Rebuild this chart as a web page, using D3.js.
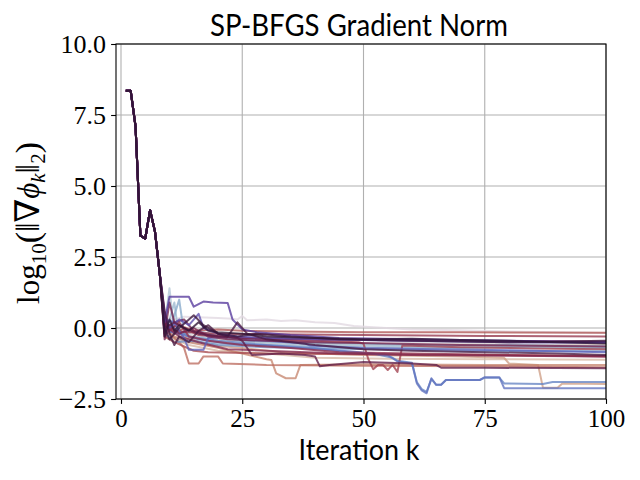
<!DOCTYPE html>
<html><head><meta charset="utf-8">
<script src="https://cdn.jsdelivr.net/npm/d3@7"></script>
<style>html,body{margin:0;padding:0;background:#fff;} svg{display:block}</style>
</head><body><svg id="c" width="640" height="480"></svg>
<script>
// ---- data ----
const xTickValues = [0, 25, 50, 75, 100];
const xTickLabels = ["0", "25", "50", "75", "100"];
const yTickValues = [-2.5, 0, 2.5, 5, 7.5, 10];
const yTickLabels = ["\u22122.5", "0.0", "2.5", "5.0", "7.5", "10.0"];

// shared first iterations (all runs overlap here)
const sharedHead = [[1,8.35],[2,8.35],[3,7.1],[4,3.25],[5,3.15],[6,4.15],[7,3.4],[8,1.9]];

// colour position of each run in the twilight map
const seriesTone = [0.00,0.04,0.08,0.12,0.16,0.20,0.25,0.29,0.33,0.37,0.41,0.45,0.50,0.52,0.54,0.58,0.60,0.62,0.64,0.66,0.68,0.70,0.72,0.74,0.78,0.82,0.86,0.90,0.94];

// per-run values after the shared head: [iteration, log10 gradient norm]
const seriesTails = [
 [[9,0.1],[10,0.35],[11,0.3],[13,0.4],[16,0.38],[20,0.35],[23,0.33],[24,0.3],[25,0.42],[26,0.27],[30,0.3],[33,0.25],[36,0.27],[40,0.2],[44,0.18],[48,0.07],[52,0.03],[60,-0.05],[70,-0.08],[80,-0.12],[90,-0.15],[100,-0.18]],
 [[9,-0.2],[11,-0.1],[14,-0.25],[18,-0.2],[22,-0.35],[30,-0.3],[40,-0.4],[50,-0.42],[60,-0.5],[80,-0.55],[100,-0.6]],
 [[9,0.3],[10,-0.3],[13,-0.4],[16,-0.3],[20,-0.45],[28,-0.5],[40,-0.55],[55,-0.6],[75,-0.62],[100,-0.65]],
 [[9,0.1],[10,1.4],[11,-0.2],[14,-0.1],[17,-0.3],[22,-0.4],[30,-0.55],[45,-0.6],[60,-0.65],[65,-0.7],[80,-0.68],[100,-0.72]],
 [[9,-0.3],[11,0.9],[12,-0.4],[15,-0.5],[20,-0.55],[30,-0.6],[50,-0.68],[70,-0.7],[85,-0.66],[100,-0.7]],
 [[9,0.0],[10,-0.1],[12,1.0],[13,-0.2],[16,-0.1],[20,-0.3],[25,-0.45],[35,-0.5],[50,-0.55],[65,-0.62],[80,-0.6],[100,-0.65]],
 [[9,-0.2],[11,-0.5],[15,-0.45],[20,-0.6],[30,-0.68],[42,-0.72],[55,-0.75],[70,-0.8],[100,-0.82]],
 [[9,0.2],[11,0.0],[14,-0.3],[20,-0.45],[30,-0.6],[40,-0.7],[47,-0.85],[52,-0.9],[56,-1.05],[57,-1.15],[60,-1.22],[61,-1.9],[62,-2.15],[63,-2.25],[64,-1.8],[65,-2.0],[66,-2.0],[67,-1.83],[74,-1.83],[75,-1.75],[78,-1.75],[79,-1.95],[87,-1.97],[89,-1.9],[100,-1.9]],
 [[9,-0.1],[12,-0.2],[16,-0.4],[22,-0.55],[30,-0.62],[40,-0.75],[47,-0.82],[55,-0.95],[57,-1.18],[60,-1.25],[61,-1.95],[62,-2.2],[63,-2.3],[64,-1.77],[65,-2.0],[66,-2.0],[67,-1.83],[74,-1.83],[75,-1.73],[78,-1.73],[79,-2.12],[100,-2.12]],
 [[9,0.3],[11,0.2],[12,-0.1],[13,-0.35],[14,-0.77],[17,-0.77],[18,-0.35],[22,-0.3],[26,-0.42],[30,-0.45],[38,-0.55],[39,-0.62],[50,-0.7],[65,-0.75],[80,-0.78],[100,-0.85]],
 [[9,0.5],[10,0.0],[12,0.3],[14,0.1],[16,0.5],[17,0.0],[20,-0.2],[24,-0.3],[30,-0.35],[40,-0.4],[60,-0.45],[80,-0.5],[100,-0.52]],
 [[9,0.2],[10,1.1],[14,1.1],[15,0.75],[17,0.93],[19,0.9],[22,0.88],[23,0.3],[25,-0.05],[28,-0.15],[35,-0.25],[45,-0.35],[60,-0.4],[80,-0.45],[100,-0.5]],
 [[9,-0.3],[10,0.3],[11,-0.1],[12,0.1],[14,-0.1],[16,0.2],[18,-0.1],[20,-0.15],[25,-0.2],[30,-0.3],[40,-0.35],[50,-0.4],[60,-0.38],[70,-0.42],[80,-0.45],[90,-0.5],[100,-0.55]],
 [[9,0.0],[10,-0.4],[12,0.0],[14,0.3],[15,0.45],[17,0.1],[20,-0.2],[24,-0.3],[28,-0.2],[35,-0.3],[45,-0.4],[60,-0.45],[80,-0.5],[100,-0.45]],
 [[9,0.6],[10,-0.2],[11,-0.6],[12,-0.3],[14,-0.5],[16,-0.1],[18,0.1],[20,-0.2],[22,-0.3],[24,0.2],[26,-0.2],[30,-0.4],[40,-0.6],[50,-0.75],[60,-0.8],[75,-0.85],[90,-0.9],[100,-0.95]],
 [[9,0.0],[11,0.2],[13,0.0],[16,-0.2],[20,-0.3],[24,-0.35],[25,-0.45],[27,-0.95],[33,-0.9],[38,-0.95],[40,-1.0],[41,-1.35],[43,-1.3],[50,-1.2],[60,-1.25],[65,-1.3],[66,-1.4],[75,-1.4],[100,-1.42]],
 [[9,-0.2],[10,0.9],[11,0.2],[13,0.3],[15,-0.1],[18,-0.25],[25,-0.35],[35,-0.4],[50,-0.42],[70,-0.45],[100,-0.48]],
 [[9,-0.4],[10,0.1],[12,-0.2],[15,0.0],[18,-0.3],[22,-0.4],[30,-0.45],[40,-0.5],[55,-0.55],[70,-0.6],[100,-0.65]],
 [[9,0.1],[12,-0.3],[16,-0.5],[22,-0.75],[30,-0.8],[45,-0.9],[60,-0.95],[80,-0.98],[100,-1.0]],
 [[9,0.4],[10,-0.1],[12,0.2],[14,-0.3],[18,-0.45],[25,-0.6],[35,-0.7],[45,-0.85],[60,-0.9],[80,-0.95],[100,-1.0]],
 [[9,0.2],[11,-0.1],[14,-0.15],[20,-0.2],[30,-0.22],[50,-0.25],[75,-0.28],[100,-0.3]],
 [[9,0.1],[11,-0.2],[13,0.0],[16,-0.25],[20,-0.3],[30,-0.4],[40,-0.45],[49,-0.5],[50,-0.55],[51,-1.1],[52,-1.45],[53,-1.3],[54,-1.3],[55,-1.48],[56,-1.3],[57,-1.55],[58,-0.62],[70,-0.68],[85,-0.72],[100,-0.75]],
 [[9,-0.3],[11,-0.5],[15,-0.8],[18,-0.85],[30,-0.9],[50,-0.92],[75,-0.95],[100,-0.98]],
 [[9,0.5],[10,0.0],[12,0.1],[15,-0.1],[20,-0.05],[25,-0.1],[35,-0.12],[50,-0.15],[70,-0.15],[100,-0.17]],
 [[9,0.2],[10,-0.2],[12,-0.5],[13,-0.7],[14,-1.25],[16,-1.25],[17,-1.0],[20,-1.0],[21,-1.25],[30,-1.3],[50,-1.33],[75,-1.35],[100,-1.38]],
 [[9,0.0],[11,-0.3],[14,-0.5],[20,-0.7],[25,-0.9],[30,-1.1],[31,-1.13],[32,-1.6],[34,-1.77],[36,-1.77],[37,-1.3],[50,-1.28],[75,-1.3],[100,-1.3]],
 [[9,0.3],[10,0.0],[13,-0.3],[18,-0.6],[25,-0.7],[33,-0.85],[40,-0.9],[50,-0.95],[70,-1.0],[79,-1.05],[80,-1.25],[86,-1.3],[87,-2.1],[90,-2.1],[91,-1.95],[100,-1.97]],
 [[9,0.0],[11,-0.4],[14,-0.6],[20,-0.8],[30,-0.9],[40,-1.05],[55,-1.08],[75,-1.1],[100,-1.12]],
 [[9,-0.1],[11,0.1],[13,-0.2],[16,-0.35],[24,-0.45],[35,-0.55],[50,-0.6],[70,-0.58],[100,-0.6]]
];

// ---- styles ----
const twilightStops = ["#e2d9e2","#d3d5de","#bccbd8","#a0bbd1","#86a9ca","#6f94c5","#6280c2","#5e69bd","#5d52b2","#56389c","#2f1436","#4e1a44","#6c1f4a","#88294c","#a0404e","#b35b56","#c27966","#cc9980","#d6b8a4","#ddcdc6","#e2d9e2"];
const twilight = d3.scaleLinear().domain(d3.range(twilightStops.length).map(i => i / (twilightStops.length - 1))).range(twilightStops).interpolate(d3.interpolateRgb);

const W = 640, H = 480;
const L = 116, R = 606, T = 44, B = 399;
const svg = d3.select("#c");
svg.append("rect").attr("width", W).attr("height", H).attr("fill", "#fff");

const x = d3.scaleLinear().domain([-1.03, 100]).range([L, R]);
const y = d3.scaleLinear().domain([-2.5, 10]).range([B, T]);

// grid
const grid = svg.append("g");
grid.selectAll(".gx").data(xTickValues).enter().append("line")
  .attr("x1", d => x(d)).attr("x2", d => x(d)).attr("y1", T).attr("y2", B)
  .attr("stroke", "#b0b0b0").attr("stroke-width", 1.1);
grid.selectAll(".gy").data(yTickValues).enter().append("line")
  .attr("y1", d => y(d)).attr("y2", d => y(d)).attr("x1", L).attr("x2", R)
  .attr("stroke", "#b0b0b0").attr("stroke-width", 1.1);

// lines
svg.append("clipPath").attr("id", "clip").append("rect").attr("x", L).attr("y", T).attr("width", R - L).attr("height", B - T);
const line = d3.line().x(d => x(d[0])).y(d => y(d[1]));
const runs = seriesTails.map((tail, i) => ({ tone: seriesTone[i], pts: sharedHead.concat(tail) }));
runs.sort((a, b) => Math.abs(b.tone - 0.5) - Math.abs(a.tone - 0.5));
svg.append("g").attr("clip-path", "url(#clip)").selectAll("path").data(runs).enter().append("path")
  .attr("d", d => line(d.pts)).attr("fill", "none")
  .attr("stroke", d => twilight(d.tone)).attr("stroke-width", 2).attr("stroke-opacity", 0.78)
  .attr("stroke-linejoin", "round").attr("stroke-linecap", "butt");

// axes
const serif = "'Liberation Serif','DejaVu Serif',serif";
const xAxis = d3.axisBottom(x).tickValues(xTickValues).tickFormat((d, i) => xTickLabels[i]).tickSize(4.9).tickSizeOuter(0);
const gx = svg.append("g").attr("transform", `translate(0,${B})`).call(xAxis);
gx.select(".domain").remove();
gx.selectAll(".tick line").attr("stroke", "#000").attr("stroke-width", 1.1);
gx.selectAll(".tick text").attr("y", 28).attr("dy", null).attr("fill", "#000")
  .style("font-family", serif).style("font-size", "25px");

const yAxis = d3.axisLeft(y).tickValues(yTickValues).tickFormat((d, i) => yTickLabels[i]).tickSize(4.9).tickSizeOuter(0);
const gy = svg.append("g").attr("transform", `translate(${L},0)`).call(yAxis);
gy.select(".domain").remove();
gy.selectAll(".tick line").attr("stroke", "#000").attr("stroke-width", 1.1);
gy.selectAll(".tick text").attr("x", -10).attr("dy", "0.34em").attr("fill", "#000")
  .style("font-family", serif).style("font-size", "26px");

// frame
svg.append("rect").attr("x", L).attr("y", T).attr("width", R - L).attr("height", B - T)
  .attr("fill", "none").attr("stroke", "#000").attr("stroke-width", 1.1);

// title & labels
const sans = "Lato,'DejaVu Sans',sans-serif";
svg.append("text").attr("x", 359).attr("y", 35.5).attr("text-anchor", "middle")
  .attr("textLength", 298).attr("lengthAdjust", "spacingAndGlyphs")
  .style("font-family", sans).style("font-size", "30px").attr("fill", "#000").text("SP-BFGS Gradient Norm");
svg.append("text").attr("x", 359).attr("y", 460).attr("text-anchor", "middle")
  .attr("textLength", 121).attr("lengthAdjust", "spacingAndGlyphs")
  .style("font-family", sans).style("font-size", "28px").attr("fill", "#000").text("Iteration k");

const yl = svg.append("text").attr("transform", "translate(39,223) rotate(-90)").attr("text-anchor", "middle")
  .style("font-family", serif).style("font-size", "31px").attr("fill", "#000");
yl.append("tspan").text("log");
yl.append("tspan").attr("dy", 7).style("font-size", "21px").text("10");
yl.append("tspan").attr("dy", -7).style("font-size", "34px").text("(\u2016\u2207");
yl.append("tspan").style("font-style", "italic").text("\u03d5");
yl.append("tspan").attr("dy", 6).style("font-size", "21px").style("font-style", "italic").text("k");
yl.append("tspan").attr("dy", -6).style("font-size", "34px").text("\u2016");
yl.append("tspan").attr("dy", 6).style("font-size", "21px").text("2");
yl.append("tspan").attr("dy", -6).style("font-size", "34px").text(")");
</script>
</body></html>
